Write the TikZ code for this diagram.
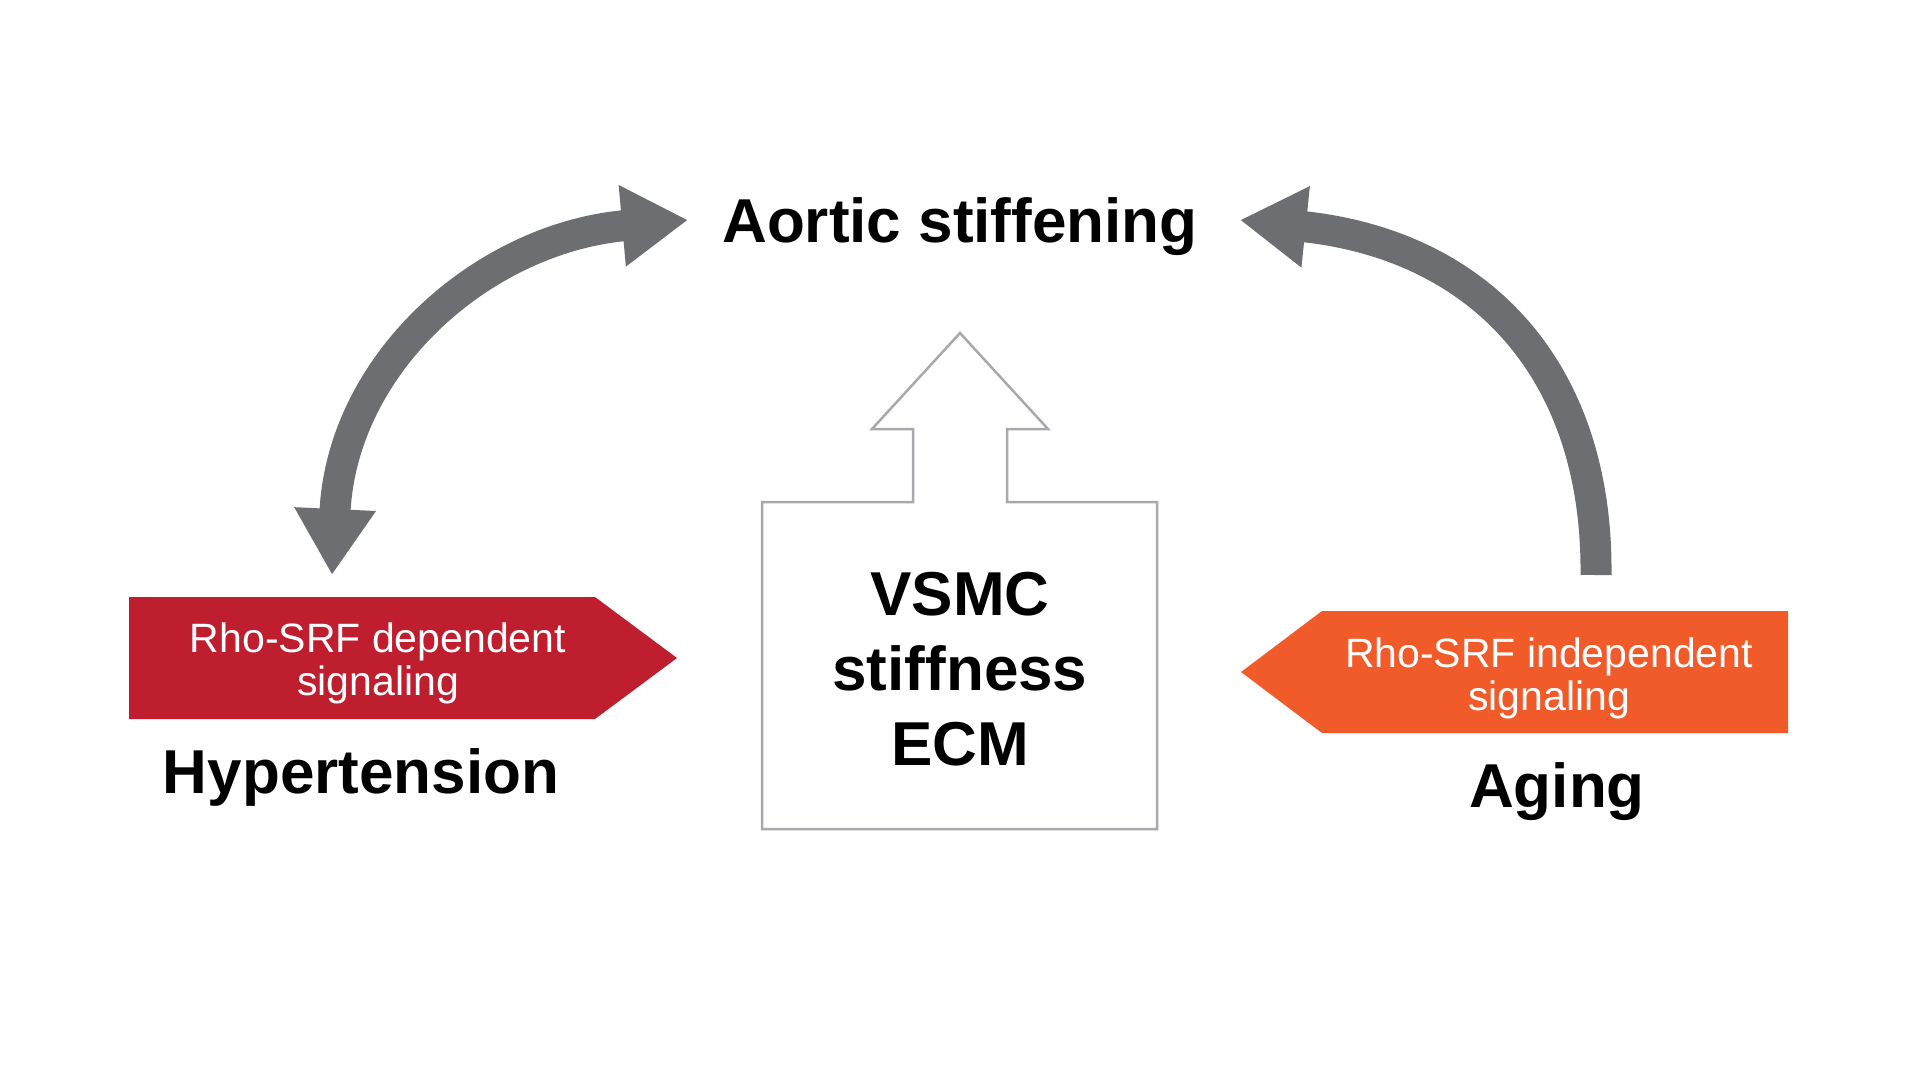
\documentclass[tikz,border=0pt]{standalone}
\usepackage{fontspec}
\setmainfont{Liberation Sans}
\usepackage{tikz}
\usetikzlibrary{arrows.meta}
\definecolor{arrowgray}{HTML}{6D6E71}
\definecolor{boxgray}{HTML}{A7A9AC}
\definecolor{sigred}{HTML}{BE1E2D}
\definecolor{sigorange}{HTML}{F15A29}
\tikzset{
  flow/.style={draw=arrowgray, line width=31pt, >={Triangle[length=66pt,width=77pt]}},
  outline/.style={draw=boxgray, line width=2.5pt, line join=miter},
  sig/.style={text=white, align=center, inner sep=0pt, font=\fontsize{41}{43}\selectfont},
  big/.style={text=black, align=center, inner sep=0pt, font=\bfseries\fontsize{62}{75}\selectfont},
}
\begin{document}
\begin{tikzpicture}[x=1pt,y=-1pt]
  \fill[white] (0,0) rectangle (1920,1080);
  \useasboundingbox (0,0) rectangle (1920,1080);
  % top label
  \node[big,anchor=base] (aortic) at (960,242) {Aortic stiffening};
  % left and right signal boxes
  \fill[sigred] (129,597) -- (595,597) -- (677,658) -- (595,719) -- (129,719) -- cycle;
  \node[sig] (dep) at (378,663) {Rho-SRF dependent\\signaling};
  \node[big,anchor=base] (hyp) at (361,793) {Hypertension};
  \fill[sigorange] (1788,611) -- (1322,611) -- (1241,672) -- (1322,733) -- (1788,733) -- cycle;
  \node[sig] (indep) at (1549,678) {Rho-SRF independent\\signaling};
  \node[big,anchor=base] (aging) at (1557,807) {Aging};
  % centre box with hollow arrow
  \draw[outline] (762,502) -- (913,502) -- (913,429) -- (872,429) -- (960,333)
    -- (1048,429) -- (1007,429) -- (1007,502) -- (1157,502) -- (1157,829)
    -- (762,829) -- cycle;
  \node[big] (vsmc) at (960,669) {VSMC\\stiffness\\ECM};
  % curved arrows
  \coordinate (hyptip) at (332,575);
  \coordinate (aortL) at (688,220);
  \coordinate (aortR) at (1240,220);
  \coordinate (agetail) at (1596,575);
  \draw[flow,<->] (hyptip) .. controls (342,362) and (484,238) .. (aortL);
  \draw[flow,->] (agetail) .. controls (1598,370) and (1480,245) .. (aortR);
\end{tikzpicture}
\end{document}
